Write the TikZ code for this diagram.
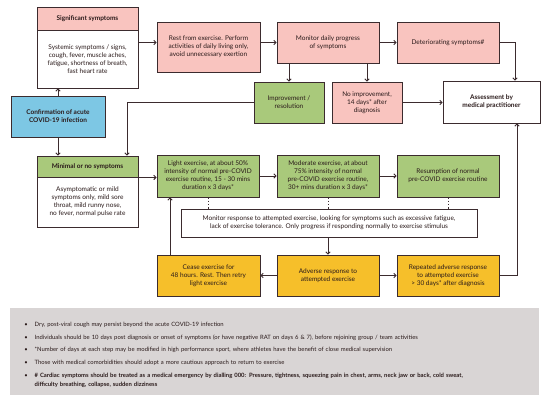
\documentclass[tikz,border=0pt]{standalone}
\usepackage{fontspec}
\setmainfont{Lato}
\usetikzlibrary{arrows.meta}
\definecolor{pinkc}{HTML}{F9C4BF}
\definecolor{greenc}{HTML}{A9C97B}
\definecolor{bluec}{HTML}{7DC7E4}
\definecolor{yellowc}{HTML}{F6BF2A}
\definecolor{grayc}{HTML}{D9D5D5}
\definecolor{linec}{HTML}{3B2B2E}
\definecolor{textc}{HTML}{2A1A1A}
\tikzset{
  box/.style={draw=linec, line width=0.9pt, align=center, inner sep=1pt,
    font=\fontsize{6.5}{8}\selectfont, text=textc},
  pinkbox/.style={box, fill=pinkc},
  greenbox/.style={box, fill=greenc},
  yellowbox/.style={box, fill=yellowc},
  whitebox/.style={box, fill=white},
  bluebox/.style={box, fill=bluec},
  conn/.style={draw=linec, line width=0.9pt, -{Straight Barb[length=2.2pt,width=4.4pt]}},
  plain/.style={draw=linec, line width=0.9pt},
  dots/.style={draw=linec, line width=1pt, dash pattern=on 1.6pt off 1.6pt},
}
\begin{document}
\begin{tikzpicture}[x=1pt,y=-1pt]
\useasboundingbox (0,0) rectangle (550,404);
\fill[white] (0,0) rectangle (550,404);
% top row
\node[pinkbox, minimum width=101pt, minimum height=23pt] (sighead) at (87.5,18.5) {\bfseries Significant symptoms};
\node[whitebox, minimum width=101pt, minimum height=58pt] (sigbody) at (87.5,59) {Systemic symptoms / signs,\\ cough, fever, muscle aches,\\ fatigue, shortness of breath,\\ fast heart rate};
\node[pinkbox, minimum width=103pt, minimum height=50pt] (rest) at (208.5,47) {Rest from exercise. Perform\\ activities of daily living only,\\ avoid unnecessary exertion};
\node[pinkbox, minimum width=102pt, minimum height=41pt] (mon) at (328,42.5) {Monitor daily progress\\ of symptoms};
\node[pinkbox, minimum width=102pt, minimum height=41pt] (det) at (448,42.5) {Deteriorating symptoms\#};
\node[greenbox, minimum width=70pt, minimum height=41pt] (impr) at (289,102.5) {Improvement /\\ resolution};
\node[pinkbox, minimum width=70pt, minimum height=41pt] (noimp) at (367,102.5) {No improvement,\\ 14 days* after\\ diagnosis};
\node[whitebox, minimum width=97pt, minimum height=42pt] (assess) at (491.5,102) {\bfseries Assessment by\\ \bfseries medical practitioner};
\node[bluebox, minimum width=94pt, minimum height=41pt] (conf) at (58,116.5) {\bfseries Confirmation of acute\\ \bfseries COVID-19 infection};
% middle row
\node[greenbox, minimum width=101pt, minimum height=21pt] (minhead) at (87.5,166.5) {\bfseries Minimal or no symptoms};
\node[whitebox, minimum width=101pt, minimum height=50pt] (minbody) at (87.5,202) {Asymptomatic or mild\\ symptoms only, mild sore\\ throat, mild runny nose,\\ no fever, normal pulse rate};
\node[greenbox, minimum width=102pt, minimum height=42pt] (light) at (208,176) {Light exercise, at about 50\%\\ intensity of normal pre-COVID\\ exercise routine, 15 - 30 mins\\ duration x 3 days*};
\node[greenbox, minimum width=102pt, minimum height=42pt] (mod) at (328,176) {Moderate exercise, at about\\ 75\% intensity of normal\\ pre-COVID exercise routine,\\ 30+ mins duration x 3 days*};
\node[greenbox, minimum width=102pt, minimum height=42pt] (res) at (448,176) {Resumption of normal\\ pre-COVID exercise routine};
\node[whitebox, minimum width=296pt, minimum height=28pt] (monresp) at (329,223) {Monitor response to attempted exercise, looking for symptoms such as excessive fatigue,\\ lack of exercise tolerance. Only progress if responding normally to exercise stimulus};
% bottom row
\node[yellowbox, minimum width=103pt, minimum height=41pt] (cease) at (208.5,275.5) {Cease exercise for\\ 48 hours. Rest. Then retry\\ light exercise};
\node[yellowbox, minimum width=102pt, minimum height=41pt] (adv) at (328,275.5) {Adverse response to\\ attempted exercise};
\node[yellowbox, minimum width=102pt, minimum height=41pt] (rep) at (448,275.5) {Repeated adverse response\\ to attempted exercise\\ > 30 days* after diagnosis};
% connectors
\draw[conn] (conf.north) -- (conf.north |- sigbody.south);
\draw[conn] (conf.south) -- (conf.south |- minhead.north);
\draw[conn] (sigbody.east |- mon.west) -- (rest.west |- mon.west);
\draw[conn] (rest.east |- mon.west) -- (mon.west);
\draw[conn] (mon.east) -- (det.west);
\draw[conn] (det.east) -| ([xshift=23.5pt]assess.north);
\draw[conn] (mon.south -| impr.north) -- (impr.north);
\draw[conn] (mon.south -| noimp.north) -- (noimp.north);
\draw[conn] (noimp.east) -- (noimp.east -| assess.west);
\draw[conn] (impr.west) -| ([xshift=39.5pt]minhead.north);
\draw[conn] (minhead.south east) -- (light.west |- minhead.south east);
\draw[conn] (light.east) -- (mod.west);
\draw[conn] (mod.east) -- (res.west);
\draw[dots] (light.south) -- (light.south |- monresp.north);
\draw[dots] (mod.south) -- (mod.south |- monresp.north);
\draw[dots] (res.south) -- (res.south |- monresp.north);
\draw[conn] (monresp.south -| adv.north) -- (adv.north);
\draw[conn] (adv.west) -- (cease.east);
\draw[conn] (adv.east) -- (rep.west);
\draw[conn] (rep.east) -| ([xshift=25.5pt]assess.south);
\draw[conn] ([xshift=-38.5pt]cease.north) -- ([xshift=-38.5pt]cease.north |- light.south);
% notes
\node[fill=grayc, minimum width=529pt, minimum height=87pt, inner sep=0pt] (notes) at (274.5,351.5) {};
\node[anchor=north west, inner sep=0pt, text=textc, font=\fontsize{5.9}{8.6}\selectfont, text width=510pt] (notestext) at (19,317.5) {%
\begin{list}{\textbullet}{\leftmargin=15.5pt\labelwidth=8pt\labelsep=7pt\itemsep=4.2pt\parsep=0pt\topsep=0pt}
\item Dry, post-viral cough may persist beyond the acute COVID-19 infection
\item Individuals should be 10 days post diagnosis or onset of symptoms (or have negative RAT on days 6 \& 7), before rejoining group / team activities
\item *Number of days at each step may be modified in high performance sport, where athletes have the benefit of close medical supervision
\item Those with medical comorbidities should adopt a more cautious approach to return to exercise
\item \bfseries \# Cardiac symptoms should be treated as a medical emergency by dialling 000: Pressure, tightness, squeezing pain in chest, arms, neck jaw or back, cold sweat,\newline difficulty breathing, collapse, sudden dizziness
\end{list}};
\end{tikzpicture}
\end{document}
